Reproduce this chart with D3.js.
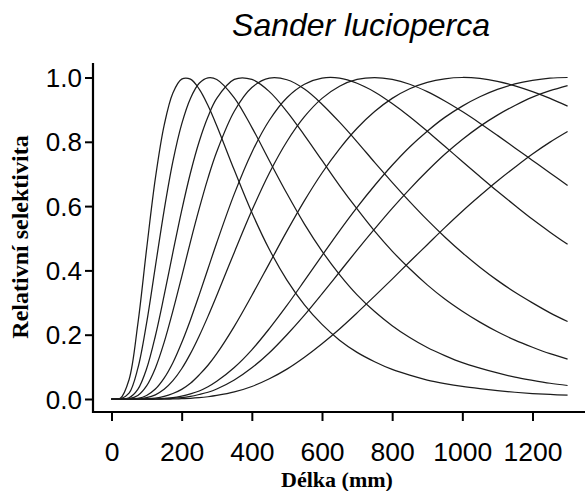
<!DOCTYPE html>
<html>
<head>
<meta charset="utf-8">
<script src="https://cdn.jsdelivr.net/npm/d3@7"></script>
<style>
  html, body { margin: 0; padding: 0; background: #fff; }
  svg { display: block; }
</style>
</head>
<body>
<svg id="chart" width="585" height="491"></svg>
<script>
// Fish length (mm) at which each selectivity curve is sampled
const lengths = [0, 25, 50, 75, 100, 125, 150, 175, 200, 225, 250, 275, 300,
  350, 400, 450, 500, 550, 600, 650, 700, 750, 800, 850, 900, 950, 1000,
  1050, 1100, 1150, 1200, 1250, 1300];

// Relative selectivity of each mesh size, smallest mesh first
const sel01 = [0, 0.002, 0.060, 0.233, 0.466, 0.686, 0.851, 0.952, 0.995, 0.995, 0.964, 0.913, 0.850,
  0.712, 0.580, 0.465, 0.370, 0.293, 0.232, 0.183, 0.145, 0.116, 0.092, 0.074, 0.059, 0.048, 0.039,
  0.032, 0.026, 0.021, 0.017, 0.014, 0.012];
const sel02 = [0, 0, 0.018, 0.095, 0.236, 0.412, 0.587, 0.739, 0.855, 0.935, 0.982, 0.999, 0.994,
  0.937, 0.845, 0.741, 0.639, 0.544, 0.460, 0.387, 0.324, 0.272, 0.228, 0.191, 0.160, 0.135, 0.113,
  0.096, 0.081, 0.068, 0.058, 0.049, 0.042];
const sel03 = [0, 0, 0.004, 0.030, 0.094, 0.196, 0.322, 0.456, 0.586, 0.703, 0.801, 0.878, 0.935,
  0.994, 0.994, 0.956, 0.894, 0.820, 0.742, 0.664, 0.591, 0.522, 0.460, 0.405, 0.355, 0.311, 0.273,
  0.239, 0.209, 0.183, 0.161, 0.141, 0.124];
const sel04 = [0, 0, 0.001, 0.011, 0.041, 0.096, 0.176, 0.274, 0.380, 0.489, 0.592, 0.687, 0.769,
  0.895, 0.969, 0.998, 0.993, 0.964, 0.917, 0.861, 0.800, 0.736, 0.674, 0.614, 0.557, 0.504, 0.455,
  0.410, 0.369, 0.332, 0.299, 0.268, 0.241];
const sel05 = [0, 0, 0, 0.002, 0.011, 0.031, 0.065, 0.113, 0.175, 0.246, 0.324, 0.405, 0.486,
  0.638, 0.767, 0.867, 0.937, 0.979, 0.998, 0.998, 0.982, 0.955, 0.919, 0.878, 0.833, 0.786, 0.739,
  0.692, 0.646, 0.602, 0.559, 0.519, 0.481];
const sel06 = [0, 0, 0, 0, 0.004, 0.013, 0.030, 0.057, 0.094, 0.141, 0.196, 0.257, 0.322,
  0.456, 0.586, 0.703, 0.801, 0.878, 0.935, 0.973, 0.994, 1.000, 0.994, 0.979, 0.956, 0.927, 0.894,
  0.858, 0.820, 0.781, 0.742, 0.703, 0.664];
const sel07 = [0, 0, 0, 0, 0.001, 0.003, 0.008, 0.017, 0.030, 0.049, 0.075, 0.105, 0.141,
  0.226, 0.322, 0.422, 0.522, 0.617, 0.703, 0.778, 0.842, 0.894, 0.935, 0.965, 0.985, 0.996, 1.000,
  0.997, 0.988, 0.974, 0.956, 0.935, 0.911];
const sel08 = [0, 0, 0, 0, 0, 0, 0.002, 0.004, 0.009, 0.016, 0.025, 0.038, 0.055,
  0.098, 0.153, 0.219, 0.291, 0.368, 0.446, 0.523, 0.596, 0.664, 0.727, 0.784, 0.833, 0.876, 0.911,
  0.940, 0.963, 0.980, 0.991, 0.998, 1.000];
const sel09 = [0, 0, 0, 0, 0, 0, 0.001, 0.002, 0.004, 0.008, 0.014, 0.021, 0.031,
  0.059, 0.097, 0.144, 0.200, 0.261, 0.327, 0.395, 0.463, 0.529, 0.593, 0.653, 0.709, 0.761, 0.807,
  0.848, 0.883, 0.913, 0.939, 0.959, 0.975];
const sel10 = [0, 0, 0, 0, 0, 0, 0, 0, 0.001, 0.002, 0.004, 0.007, 0.011,
  0.022, 0.039, 0.063, 0.093, 0.130, 0.172, 0.218, 0.268, 0.320, 0.373, 0.427, 0.480, 0.533, 0.584,
  0.632, 0.678, 0.721, 0.762, 0.799, 0.832];

const curves = [sel01, sel02, sel03, sel04, sel05, sel06, sel07, sel08, sel09, sel10];

const xTicks = [0, 200, 400, 600, 800, 1000, 1200];
const yTicks = [0, 0.2, 0.4, 0.6, 0.8, 1.0];

const titleText = "Sander lucioperca";
const xTitle = "Délka (mm)";
const yTitle = "Relativní selektivita";

// ---- layout ----
const svg = d3.select("#chart");
const W = 585, H = 491;
const axisX = 93;      // position of the vertical axis line
const axisY = 412;     // position of the horizontal axis line
const axisTop = 63;

const x = d3.scaleLinear().domain([0, 1200]).range([111.5, 532.5]);
const y = d3.scaleLinear().domain([0, 1]).range([399, 77.5]);

const sansFont = "'Liberation Sans', Arial, Helvetica, sans-serif";
const serifFont = "'Liberation Serif', 'Times New Roman', serif";

// ---- curves ----
const line = d3.line()
  .x((d, i) => x(lengths[i]))
  .y(d => y(d))
  .curve(d3.curveCatmullRom.alpha(0.5));

svg.append("g")
  .selectAll("path")
  .data(curves)
  .join("path")
  .attr("d", line)
  .attr("fill", "none")
  .attr("stroke", "#1c1c1c")
  .attr("stroke-width", 1.25);

// ---- axes ----
const xAxis = svg.append("g")
  .attr("transform", `translate(0,${axisY})`)
  .call(d3.axisBottom(x).tickValues(xTicks).tickSizeInner(9).tickSizeOuter(0).tickFormat(d3.format("d")));
xAxis.select(".domain").remove();
xAxis.selectAll(".tick line").attr("stroke", "#000").attr("stroke-width", 2);
xAxis.selectAll(".tick text")
  .attr("y", 49).attr("dy", 0)
  .attr("font-family", sansFont).attr("font-size", 26.5).attr("fill", "#000");

const yAxis = svg.append("g")
  .attr("transform", `translate(${axisX},0)`)
  .call(d3.axisLeft(y).tickValues(yTicks).tickSizeInner(8).tickSizeOuter(0).tickFormat(d3.format(".1f")));
yAxis.select(".domain").remove();
yAxis.selectAll(".tick line").attr("stroke", "#000").attr("stroke-width", 2);
yAxis.selectAll(".tick text")
  .attr("x", -11).attr("dy", "0.35em")
  .attr("font-family", sansFont).attr("font-size", 26).attr("fill", "#000");

// axis lines forming the open frame
svg.append("path")
  .attr("d", `M${axisX},${axisTop}V${axisY}H${W}`)
  .attr("fill", "none")
  .attr("stroke", "#000")
  .attr("stroke-width", 2.2);

// ---- titles ----
svg.append("text")
  .attr("x", 361).attr("y", 36)
  .attr("text-anchor", "middle")
  .attr("font-family", sansFont)
  .attr("font-style", "italic")
  .attr("font-size", 32)
  .attr("fill", "#000")
  .text(titleText);

svg.append("text")
  .attr("x", 337).attr("y", 486.5)
  .attr("text-anchor", "middle")
  .attr("font-family", serifFont)
  .attr("font-weight", "bold")
  .attr("font-size", 22)
  .attr("fill", "#000")
  .text(xTitle);

svg.append("text")
  .attr("transform", "translate(28,237) rotate(-90)")
  .attr("text-anchor", "middle")
  .attr("font-family", serifFont)
  .attr("font-weight", "bold")
  .attr("font-size", 24)
  .attr("fill", "#000")
  .text(yTitle);
</script>
</body>
</html>
